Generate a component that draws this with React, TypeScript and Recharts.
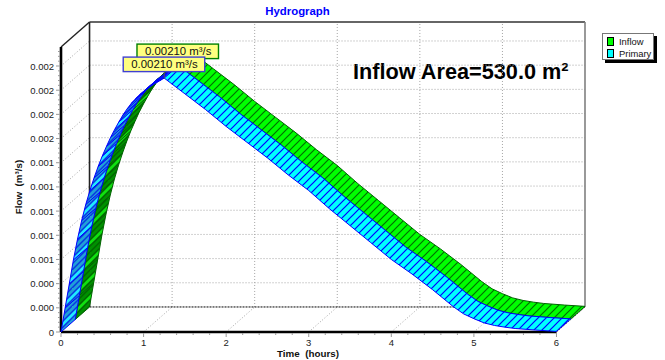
import { Legend, Scatter, ScatterChart, XAxis, YAxis } from "recharts";

const timeHours = [
  0, 0.05, 0.1, 0.15, 0.2, 0.25, 0.3, 0.35, 0.4, 0.45, 0.5, 0.55, 0.6, 0.65, 0.7, 0.75, 0.8, 0.85, 0.9, 0.95, 1, 1.05,
  1.1, 1.15, 1.2, 1.25, 1.5, 1.75, 2, 2.25, 2.5, 2.75, 3, 3.25, 3.5, 3.75, 4, 4.25, 4.5, 4.75, 4.875, 5, 5.125, 5.25,
  5.375, 5.5, 5.75, 6,
];
const inflowFlow = [
  0, 0.000199, 0.000397, 0.000596, 0.000769, 0.000922, 0.001055, 0.00117, 0.001274, 0.001369, 0.001456, 0.001534,
  0.001609, 0.001675, 0.001737, 0.001795, 0.001845, 0.00189, 0.001927, 0.00196, 0.001989, 0.002014, 0.002039, 0.00206,
  0.00208, 0.0021, 0.00197, 0.00184, 0.0017, 0.00157, 0.00144, 0.0013, 0.00117, 0.00102, 0.00088, 0.00074, 0.0006,
  0.00048, 0.00035, 0.00021, 0.00015, 0.00011, 0.000075, 0.000054, 0.00004, 0.000029, 0.000016, 0.000005,
];
const primaryFlow = [
  0, 0.000199, 0.000397, 0.000596, 0.000769, 0.000922, 0.001055, 0.00117, 0.001274, 0.001369, 0.001456, 0.001534,
  0.001609, 0.001675, 0.001737, 0.001795, 0.001845, 0.00189, 0.001927, 0.00196, 0.001989, 0.002014, 0.002039, 0.00206,
  0.00208, 0.0021, 0.00197, 0.00184, 0.0017, 0.00157, 0.00144, 0.0013, 0.00117, 0.00102, 0.00088, 0.00074, 0.0006,
  0.00048, 0.00035, 0.00021, 0.00015, 0.00011, 0.000075, 0.000054, 0.00004, 0.000029, 0.000016, 0.000005,
];

const xMajor = [0, 1, 2, 3, 4, 5, 6];
const yMajor = [0, 0.0002, 0.0004, 0.0006, 0.0008, 0.001, 0.0012, 0.0014, 0.0016, 0.0018, 0.002, 0.0022];
const yTickLabels = ["0", "0.000", "0.000", "0.001", "0.001", "0.001", "0.001", "0.001", "0.002", "0.002", "0.002", "0.002"];
const xMinorCount = 30;
const yMinorCount = 58;
const xTicks = Array.from({ length: xMinorCount + 1 }, (_, i) => i * 0.2);
const yTicks = Array.from({ length: yMinorCount + 1 }, (_, i) => i * 0.00004);

const legendItems = [
  { name: "Inflow", color: "#00ff00" },
  { name: "Primary", color: "#00ffff" },
];

// the fake 3D depth of the TeeChart-style box, in data units
const X_FRONT_MAX = 6;
const Y_FRONT_MAX = 0.002357;
const DEPTH_T = 0.3455;
const DEPTH_Q = 0.000207;
const PEAK_INDEX = 25;

type Pt = { t: number; q: number };

const noMark = () => <g />;

const poly = (key: string, pts: Pt[], line: object) => (
  <Scatter
    key={key}
    data={pts}
    line={line}
    lineType="joint"
    lineJointType="linear"
    shape={noMark}
    legendType="none"
    isAnimationActive={false}
  />
);

const off = (t: number, q: number, d: number): Pt => ({ t: t + d * DEPTH_T, q: q + d * DEPTH_Q });

const dotted = { stroke: "#a4a4a4", strokeWidth: 1, strokeDasharray: "1 2", fill: "none" };

const gridLines = [
  ...yMajor.slice(1).flatMap((v, i) => [
    poly(`side${i}`, [off(0, v, 0), off(0, v, 1)], dotted),
    poly(`back${i}`, [off(0, v, 1), off(X_FRONT_MAX, v, 1)], dotted),
  ]),
  ...xMajor.slice(1, -1).flatMap((v, i) => [
    poly(`floor${i}`, [off(v, 0, 0), off(v, 0, 1)], dotted),
    poly(`wall${i}`, [off(v, 0, 1), off(v, Y_FRONT_MAX, 1)], dotted),
  ]),
];

const frameLines = [
  poly("frameTop", [off(0, Y_FRONT_MAX, 1), off(X_FRONT_MAX, Y_FRONT_MAX, 1)], { stroke: "#333", strokeWidth: 1.5, fill: "none" }),
  poly("frameLeft", [off(0, 0, 1), off(0, Y_FRONT_MAX, 1)], { stroke: "#222", strokeWidth: 1.6, fill: "none" }),
  poly("frameRight", [off(X_FRONT_MAX, 0, 1), off(X_FRONT_MAX, Y_FRONT_MAX, 1)], { stroke: "#808080", strokeWidth: 1.6, fill: "none" }),
  poly("frameFloor", [off(0, 0, 1), off(X_FRONT_MAX, 0, 1)], { stroke: "#000", strokeWidth: 1, strokeDasharray: "2 1", fill: "none" }),
  poly("frameCorner", [off(0, Y_FRONT_MAX, 0), off(0, Y_FRONT_MAX, 1)], { stroke: "#222", strokeWidth: 1.4, fill: "none" }),
  poly("frameFloorEnd", [off(X_FRONT_MAX, 0, 0), off(X_FRONT_MAX, 0, 1)], { stroke: "#555", strokeWidth: 1, strokeDasharray: "2 1", fill: "none" }),
  poly("axisLeft", [off(0, 0, 0), off(0, Y_FRONT_MAX, 0)], { stroke: "#000", strokeWidth: 2.6, fill: "none" }),
  poly("axisBottom", [off(0, 0, 0), off(X_FRONT_MAX, 0, 0)], { stroke: "#000", strokeWidth: 2.6, fill: "none" }),
];

// one ribbon: rising side is the shaded underside drawn cell by cell, falling side the bright top
const ribbon = (
  name: string,
  values: number[],
  d0: number,
  d1: number,
  pen: string,
  riseFill: string,
  fallFill: string,
) => {
  const cells = [];
  for (let i = 0; i < PEAK_INDEX; i++) {
    const [t0, t1, q0, q1] = [timeHours[i], timeHours[i + 1], values[i], values[i + 1]];
    const pts = [off(t0, q0, d0), off(t1, q1, d0), off(t1, q1, d1), off(t0, q0, d1), off(t0, q0, d0)];
    cells.push(poly(`${name}Rise${i}`, pts, { stroke: pen, strokeWidth: 1, fill: `url(#${riseFill})` }));
  }
  const front: Pt[] = [];
  const back: Pt[] = [];
  for (let i = PEAK_INDEX; i < timeHours.length; i++) {
    front.push(off(timeHours[i], values[i], d0));
    back.unshift(off(timeHours[i], values[i], d1));
  }
  cells.push(poly(`${name}Fall`, [...front, ...back, front[0]], { stroke: pen, strokeWidth: 1, fill: `url(#${fallFill})` }));
  return cells;
};

const XTick = ({ x, y, index }: any) => {
  const major = index % 5 === 0;
  return (
    <g>
      <line x1={x} x2={x} y1={y + 1} y2={y + (major ? 5 : 3)} stroke="#999" />
      {major && (
        <text x={x} y={y + 14} textAnchor="middle" fontSize={9.5} fill="#222" fontFamily="Liberation Sans">
          {xMajor[index / 5]}
        </text>
      )}
    </g>
  );
};

const YTick = ({ x, y, index }: any) => {
  const major = index % 5 === 0;
  return (
    <g>
      <line x1={x - (major ? 5 : 3)} x2={x - 1} y1={y} y2={y} stroke="#999" />
      {major && (
        <text x={x - 7} y={y + 3.5} textAnchor="end" fontSize={9.5} fill="#222" fontFamily="Liberation Sans">
          {yTickLabels[index / 5]}
        </text>
      )}
    </g>
  );
};

const callout = (border: string, boxX: number, boxY: number, value: number) => ({ cx, cy }: any) => (
  <g>
    <line x1={cx} y1={cy} x2={cx} y2={cy + boxY + 14} stroke="#555" />
    <rect x={cx + boxX} y={cy + boxY} width={81.5} height={14.5} fill="#ffff80" stroke={border} strokeWidth={1.4} />
    <text x={cx + boxX + 8} y={cy + boxY + 11} fontSize={11.4} fill="#111" fontFamily="Liberation Sans">
      {value.toFixed(5)} m³/s
    </text>
  </g>
);

const LegendBox = () => (
  <div
    style={{
      width: 50,
      height: 25,
      border: "1px solid #777",
      background: "#fff",
      boxShadow: "3px 3px 0 #000",
      fontFamily: "Liberation Sans",
      fontSize: 9.4,
      color: "#111",
    }}
  >
    {legendItems.map((item) => (
      <div key={item.name} style={{ display: "flex", alignItems: "center", height: 11, marginTop: 1.5, marginLeft: 4 }}>
        <span style={{ width: 5, height: 7, background: item.color, border: "1px solid #000", marginRight: 5 }} />
        {item.name}
      </div>
    ))}
  </div>
);

const fallHatch = (id: string, base: string, line: string) => (
  <pattern key={id} id={id} width={8} height={8} patternUnits="userSpaceOnUse">
    <rect width={8} height={8} fill={base} />
    <path d="M-1,9 L9,-1 M-1,1 L1,-1 M7,9 L9,7" stroke={line} strokeWidth={1.2} />
  </pattern>
);

// shaded underside: tighter hatch with a bright band every third gap
const riseHatch = (id: string, base: string, line: string, bright: string) => (
  <pattern key={id} id={id} width={18} height={18} patternUnits="userSpaceOnUse">
    <rect width={18} height={18} fill={base} />
    <path d="M6,0 L12,0 L0,12 L0,6 Z M18,6 L18,12 L12,18 L6,18 Z" fill={bright} />
    <path d="M-1,7 L7,-1 M-1,13 L13,-1 M-1,19 L19,-1 M5,19 L19,5 M11,19 L19,11 M17,19 L19,17" stroke={line} strokeWidth={1.5} />
  </pattern>
);

export default function App() {
  return (
    <div style={{ position: "absolute", left: 0, top: 0, width: 665, height: 360, background: "#fff" }}>
      <ScatterChart width={665} height={360} margin={{ top: 22, right: 80, bottom: 8, left: 21 }}>
        <defs>
          {fallHatch("primaryFall", "#00ffff", "#0000ff")}
          {fallHatch("inflowFall", "#00ff00", "#007000")}
          {riseHatch("primaryRise", "#20a0d8", "#0838e0", "#20e8ff")}
          {riseHatch("inflowRise", "#009000", "#006800", "#10e010")}
        </defs>
        <XAxis
          type="number"
          dataKey="t"
          domain={[0, X_FRONT_MAX + DEPTH_T]}
          ticks={xTicks}
          tick={<XTick />}
          tickSize={0}
          tickMargin={0}
          interval={0}
          axisLine={false}
          tickLine={false}
          height={20}
        />
        <YAxis
          type="number"
          dataKey="q"
          domain={[0, Y_FRONT_MAX + DEPTH_Q]}
          ticks={yTicks}
          tick={<YTick />}
          tickSize={0}
          tickMargin={0}
          interval={0}
          axisLine={false}
          tickLine={false}
          width={40}
        />
        <Legend
          layout="vertical"
          align="center"
          verticalAlign="middle"
          content={<LegendBox />}
          wrapperStyle={{ left: 602, top: 33, width: 54 }}
        />
        {gridLines}
        {frameLines}
        {ribbon("inflow", inflowFlow, 0.5, 1, "#006400", "inflowRise", "inflowFall")}
        {ribbon("primary", primaryFlow, 0, 0.5, "#0000ff", "primaryRise", "primaryFall")}
        <Scatter
          data={[off(timeHours[PEAK_INDEX], inflowFlow[PEAK_INDEX], 0.5)]}
          shape={callout("#008000", -41.5, -21.5, inflowFlow[PEAK_INDEX])}
          legendType="none"
          isAnimationActive={false}
        />
        <Scatter
          data={[off(timeHours[PEAK_INDEX], primaryFlow[PEAK_INDEX], 0)]}
          shape={callout("#4040d0", -41, -21, primaryFlow[PEAK_INDEX])}
          legendType="none"
          isAnimationActive={false}
        />
        <text x={297.5} y={15} textAnchor="middle" fontSize={11.4} fontWeight="bold" fill="#0000ff" fontFamily="Liberation Sans">
          Hydrograph
        </text>
        <text x={353} y={78.5} fontSize={21.7} fontWeight="bold" fill="#000" fontFamily="Liberation Sans">
          Inflow Area=530.0 m²
        </text>
        <text x={308} y={357} textAnchor="middle" fontSize={9.8} fontWeight="bold" fill="#111" fontFamily="Liberation Sans">
          Time{"\u00a0\u00a0"}(hours)
        </text>
        <text
          transform="translate(22,187) rotate(-90)"
          textAnchor="middle"
          fontSize={9.8}
          fontWeight="bold"
          fill="#111"
          fontFamily="Liberation Sans"
        >
          Flow{"\u00a0\u00a0"}(m³/s)
        </text>
      </ScatterChart>
    </div>
  );
}
